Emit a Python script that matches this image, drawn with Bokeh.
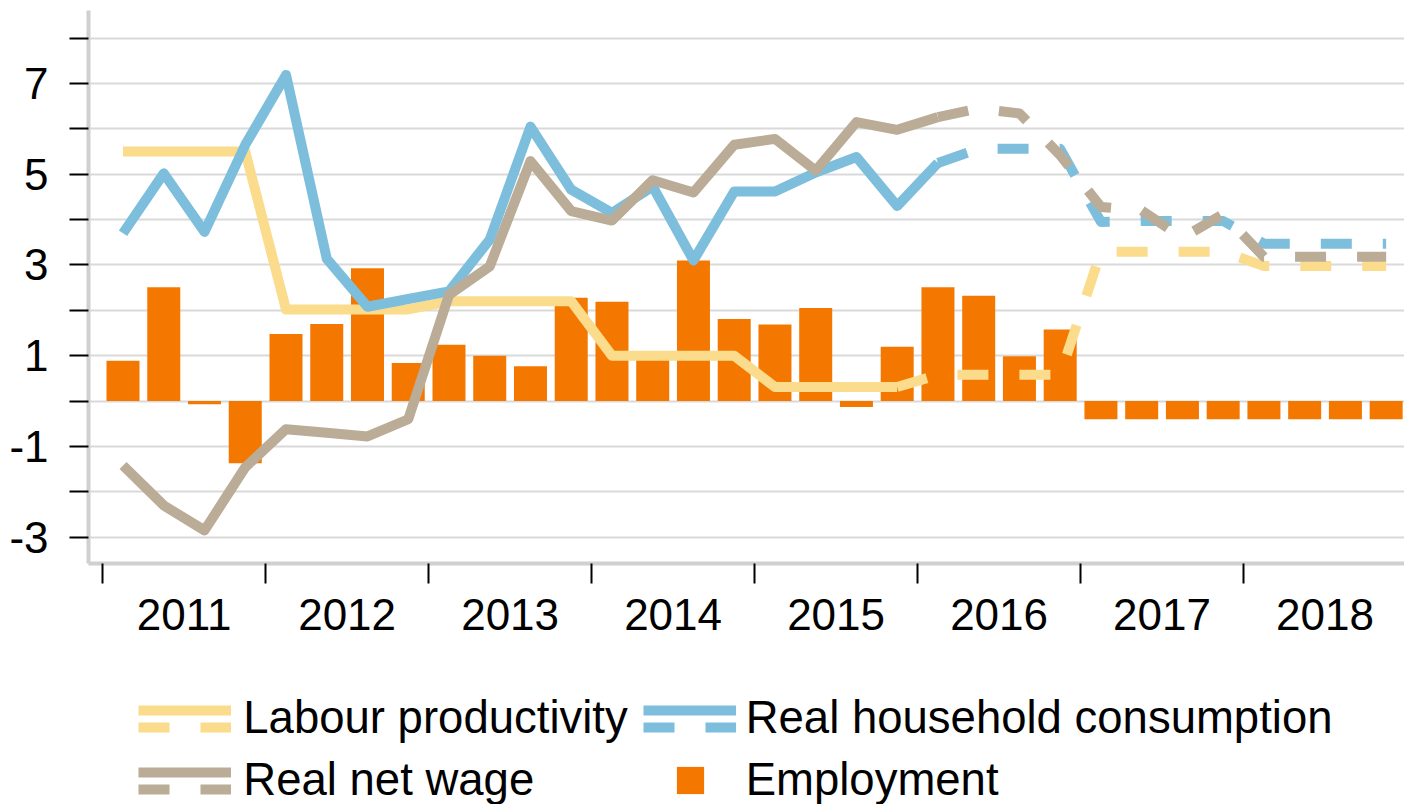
from bokeh.plotting import figure
from bokeh.layouts import column
from bokeh.models import ColumnDataSource, FixedTicker, Range1d, Legend, LegendItem
from bokeh.embed import file_html
from bokeh.resources import INLINE

# ---------------- data ----------------
years = ["2011", "2012", "2013", "2014", "2015", "2016", "2017", "2018"]
quarter_index = list(range(32))          # Q1 2011 ... Q4 2018

employment = [0.89, 2.51, -0.07, -1.37,
              1.48, 1.70, 2.93, 0.84,
              1.24, 1.00, 0.77, 2.28,
              2.19, 0.95, 3.10, 1.81,
              1.69, 2.05, -0.13, 1.20,
              2.51, 2.32, 0.99, 1.58,
              -0.40, -0.40, -0.40, -0.40,
              -0.40, -0.40, -0.40, -0.40]

labour_productivity = [5.50, 5.50, 5.50, 5.50,
                       2.02, 2.02, 2.02, 2.02,
                       2.20, 2.20, 2.20, 2.20,
                       1.00, 1.00, 1.00, 1.00,
                       0.31, 0.31, 0.31, 0.31,
                       0.58, 0.58, 0.58, 0.58,
                       3.29, 3.29, 3.29, 3.29,
                       2.98, 2.98, 2.98, 2.98]

household_consumption = [3.70, 5.02, 3.73, 5.65,
                         7.19, 3.14, 2.08, 2.25,
                         2.42, 3.56, 6.05, 4.66,
                         4.15, 4.73, 3.10, 4.62,
                         4.62, 5.04, 5.38, 4.30,
                         5.25, 5.56, 5.56, 5.56,
                         3.95, 3.97, 3.97, 3.97,
                         3.47, 3.47, 3.47, 3.47]

real_net_wage = [-1.42, -2.30, -2.85, -1.46,
                 -0.62, -0.70, -0.78, -0.40,
                 2.34, 2.97, 5.29, 4.19,
                 3.98, 4.87, 4.60, 5.65,
                 5.78, 5.08, 6.15, 5.98,
                 6.26, 6.45, 6.34, 5.42,
                 4.28, 4.20, 3.60, 4.12,
                 3.18, 3.18, 3.18, 3.18]

# first quarter drawn dashed (forecast) for each line
lp_forecast_from = 19
hc_forecast_from = 20
wage_forecast_from = 20

series_names = ["Labour productivity", "Real household consumption",
                "Real net wage", "Employment"]

y_tick_values = [-3, -1, 1, 3, 5, 7]
y_tick_labels = ["-3", "-1", "1", "3", "5", "7"]
y_minor_values = [-2, 0, 2, 4, 6, 8]

# ---------------- styles ----------------
FONT = "Liberation Sans"
C_LP = "#FADC8C"
C_HC = "#7DBEDC"
C_WAGE = "#BAAC96"
C_EMP = "#F47800"
GRID = "#D9D9D9"
AXIS = "#D0D0D0"
LW = 10
DASH = "31 31"

W = 1404
MAIN_H = 680
LEG_H = 124
FRAME_LEFT = 88

p = figure(width=W, height=MAIN_H, output_backend="svg", toolbar_location=None,
           x_range=Range1d(-0.847, 31.45), y_range=Range1d(-3.58, 8.61),
           min_border_left=FRAME_LEFT, min_border_right=0, min_border_top=10,
           min_border_bottom=MAIN_H - 563)
p.outline_line_color = None
p.background_fill_color = "white"
p.border_fill_color = "white"

# ---------------- axes ----------------
xa = p.xaxis[0]
year_centers = [1.5 + 4 * i for i in range(len(years))]
year_bounds = [-0.5 + 4 * i for i in range(len(years))]
xa.ticker = FixedTicker(ticks=year_centers, minor_ticks=year_bounds)
xa.major_label_overrides = {c: y for c, y in zip(year_centers, years)}
xa.major_tick_out = 0
xa.major_tick_in = 0
xa.minor_tick_out = 20
xa.minor_tick_in = 0
xa.minor_tick_line_color = "black"
xa.minor_tick_line_width = 2
xa.axis_line_color = AXIS
xa.axis_line_width = 4
xa.major_label_text_font = FONT
xa.major_label_text_font_size = "44px"
xa.major_label_text_color = "black"
xa.major_label_standoff = 15

ya = p.yaxis[0]
ya.ticker = FixedTicker(ticks=y_tick_values, minor_ticks=y_minor_values)
ya.major_label_overrides = {v: s for v, s in zip(y_tick_values, y_tick_labels)}
ya.major_tick_out = 19
ya.major_tick_in = 0
ya.minor_tick_out = 19
ya.minor_tick_in = 0
ya.major_tick_line_color = "black"
ya.minor_tick_line_color = "black"
ya.major_tick_line_width = 2
ya.minor_tick_line_width = 2
ya.axis_line_color = AXIS
ya.axis_line_width = 4
ya.major_label_text_font = FONT
ya.major_label_text_font_size = "44px"
ya.major_label_text_color = "black"
ya.major_label_standoff = 21

p.xgrid.visible = False
p.ygrid.grid_line_color = GRID
p.ygrid.grid_line_width = 2
p.ygrid.minor_grid_line_color = GRID
p.ygrid.minor_grid_line_width = 2

# ---------------- glyphs ----------------
bar_src = ColumnDataSource(dict(x=quarter_index, top=employment))
p.vbar(x="x", top="top", width=0.81, source=bar_src,
       fill_color=C_EMP, line_color=C_EMP, line_width=0)


def split_sources(values, start):
    solid = ColumnDataSource(dict(x=quarter_index[:start + 1], y=values[:start + 1]))
    dashed = ColumnDataSource(dict(x=quarter_index[start:], y=values[start:]))
    return solid, dashed


def add_series(values, start, color):
    s_src, d_src = split_sources(values, start)
    p.line("x", "y", source=s_src, line_color=color, line_width=LW,
           line_join="round")
    p.line("x", "y", source=d_src, line_color=color, line_width=LW,
           line_dash=DASH, line_cap="butt", line_join="round")
    return s_src, d_src


lp_s, lp_d = add_series(labour_productivity, lp_forecast_from, C_LP)
hc_s, hc_d = add_series(household_consumption, hc_forecast_from, C_HC)
wg_s, wg_d = add_series(real_net_wage, wage_forecast_from, C_WAGE)

# ---------------- legend (separate strip below the chart) ----------------
# The strip shares the data sources but its ranges lie outside the data, so
# its renderers only draw the legend keys.
lf = figure(width=W, height=LEG_H, output_backend="svg", toolbar_location=None,
            x_range=Range1d(-3, -2), y_range=Range1d(100, 101),
            x_axis_location=None, y_axis_location=None, min_border=0)
lf.grid.visible = False
lf.outline_line_color = None
lf.background_fill_color = "white"
lf.border_fill_color = "white"

k_lp_s = lf.line("x", "y", source=lp_s, line_color=C_LP, line_width=LW)
k_lp_d = lf.line("x", "y", source=lp_d, line_color=C_LP, line_width=LW, line_dash=DASH)
k_hc_s = lf.line("x", "y", source=hc_s, line_color=C_HC, line_width=LW)
k_hc_d = lf.line("x", "y", source=hc_d, line_color=C_HC, line_width=LW, line_dash=DASH)
k_wg_s = lf.line("x", "y", source=wg_s, line_color=C_WAGE, line_width=LW)
k_wg_d = lf.line("x", "y", source=wg_d, line_color=C_WAGE, line_width=LW, line_dash=DASH)
k_emp = lf.vbar(x="x", top="top", width=0.81, source=bar_src,
                fill_color=C_EMP, line_color=C_EMP, line_width=0)
k_none = lf.line(x=[], y=[], line_alpha=0)

ROW_H = 56
SPACING = 6


def add_legend(items, left, top, glyph_w, glyph_h, standoff, font_size, label_h):
    n = len(items)
    height = n * max(glyph_h, label_h) + (n - 1) * SPACING
    vy = LEG_H - top - height
    leg = Legend(items=items, location=(left - FRAME_LEFT, vy), orientation="vertical",
                 glyph_width=glyph_w, glyph_height=glyph_h, label_height=label_h,
                 label_standoff=standoff, spacing=SPACING, padding=0, margin=0,
                 border_line_color=None, background_fill_alpha=0,
                 label_text_font=FONT, label_text_font_size=font_size,
                 label_text_color="black")
    lf.add_layout(leg)


COL1 = 138.3
COL2 = 642.7
TEXT_TOP = 38 - ROW_H / 2     # row centres 38 and 100 in this strip
SOLID_TOP = 29.5 - ROW_H / 2
DASH_TOP = 46.5 - ROW_H / 2

add_legend([LegendItem(label=series_names[0], renderers=[k_none]),
            LegendItem(label=series_names[2], renderers=[k_none])],
           COL1, TEXT_TOP, 93, ROW_H, 12, "45.5px", ROW_H)
add_legend([LegendItem(label=series_names[1], renderers=[k_none]),
            LegendItem(label=series_names[3], renderers=[k_none])],
           COL2, TEXT_TOP, 93, ROW_H, 10, "45.5px", ROW_H)
add_legend([LegendItem(label=" ", renderers=[k_lp_s]),
            LegendItem(label=" ", renderers=[k_wg_s])],
           COL1, SOLID_TOP, 93, ROW_H, 0, "10px", ROW_H)
add_legend([LegendItem(label=" ", renderers=[k_lp_d]),
            LegendItem(label=" ", renderers=[k_wg_d])],
           COL1, DASH_TOP, 93, ROW_H, 0, "10px", ROW_H)
add_legend([LegendItem(label=" ", renderers=[k_hc_s])],
           COL2, SOLID_TOP, 93, ROW_H, 0, "10px", ROW_H)
add_legend([LegendItem(label=" ", renderers=[k_hc_d])],
           COL2, DASH_TOP, 93, ROW_H, 0, "10px", ROW_H)
add_legend([LegendItem(label=" ", renderers=[k_emp])],
           672.9, 100 - 17, 34, 34, 0, "10px", 34)

layout = column(p, lf, spacing=0)
open("out.html", "w").write(file_html(layout, INLINE))
